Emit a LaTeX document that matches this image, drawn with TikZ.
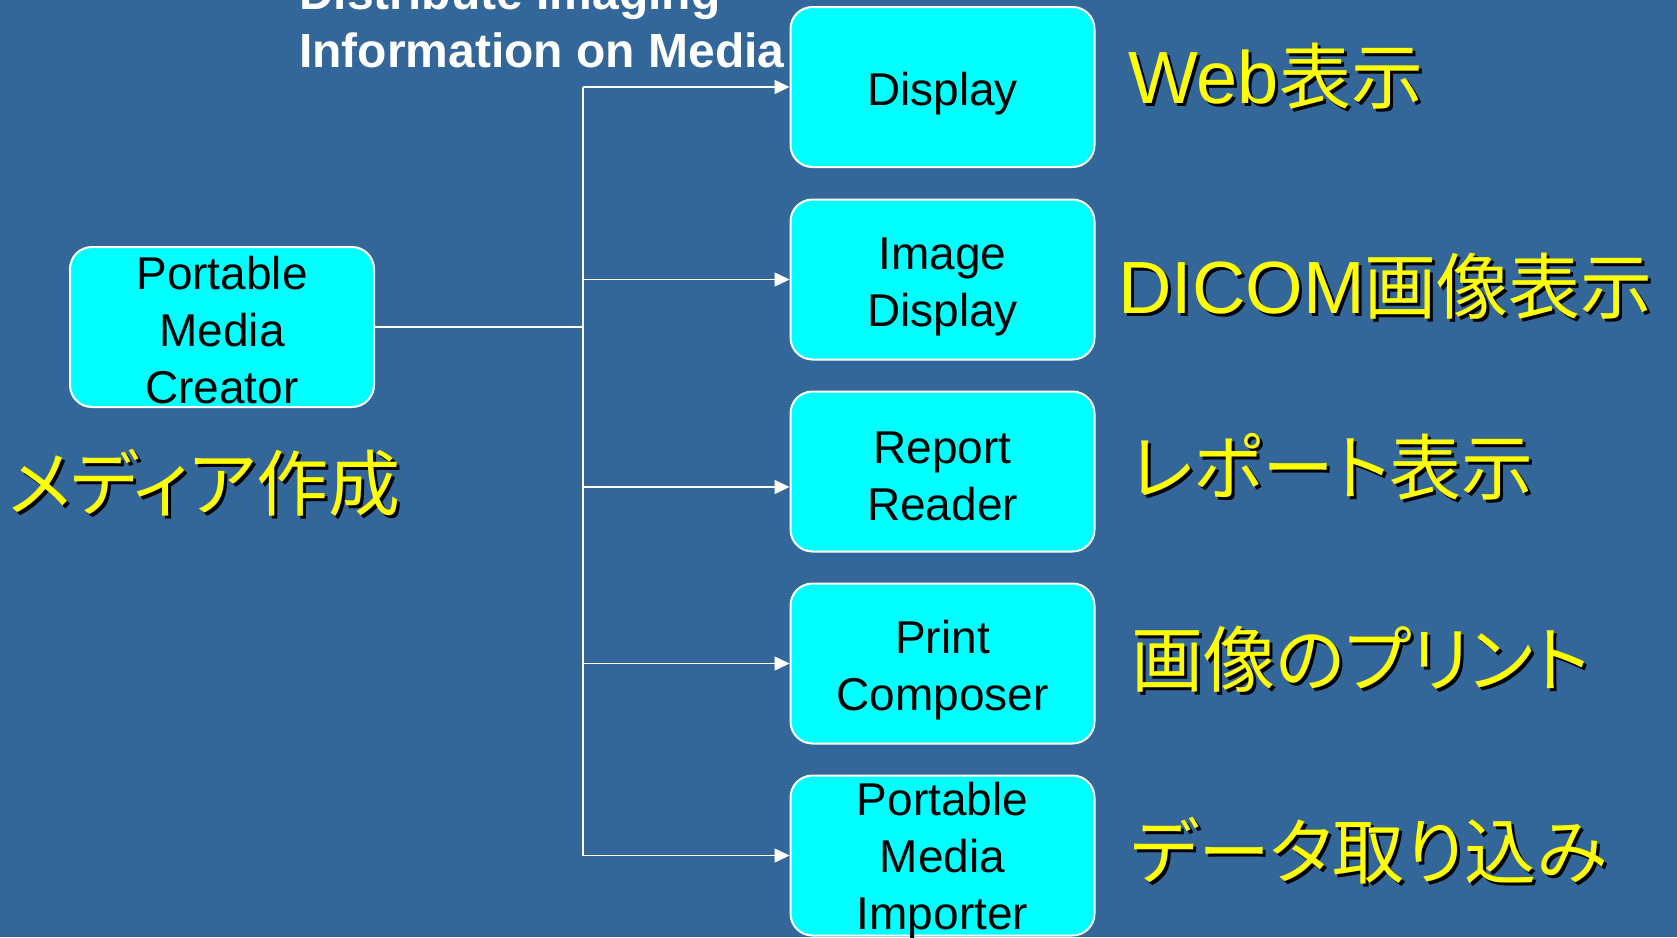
\documentclass[tikz,border=0pt]{standalone}
\usepackage{fontspec}
\setmainfont{Liberation Sans}
\newfontfamily\jpfam[RawFeature=+palt]{Noto Sans CJK JP}
\newcommand\jp{\jpfam\fontsize{72}{80}\selectfont}
\newcommand\tp[1]{\rule{0pt}{#1pt}}
\usetikzlibrary{arrows.meta}
\definecolor{bgblue}{RGB}{51,102,153}
\definecolor{boxcyan}{RGB}{0,255,255}
\definecolor{labyellow}{RGB}{255,255,0}
\newcommand\shd[1]{\makebox[0pt][l]{\hspace{3pt}\raisebox{-3pt}{\color{black}#1}}#1}
\begin{document}
\begin{tikzpicture}[x=1pt,y=-1pt,
  box/.style={draw=white, line width=2pt, fill=boxcyan, rounded corners=22pt,
    minimum width=304pt, minimum height=160pt, align=center, text=black,
    font=\fontsize{46}{57}\selectfont, inner sep=0pt},
  wire/.style={draw=white, line width=1.5pt},
  arr/.style={wire, -{Triangle[length=15pt,width=14pt]}},
  ttl/.style={anchor=base west, inner sep=0pt, text=white,
    font=\fontsize{48}{57}\selectfont\bfseries},
  lab/.style={anchor=base west, inner sep=0pt, text=labyellow,
    font=\fontsize{74}{80}\selectfont}]
\useasboundingbox (0,0) rectangle (1677,937);
\clip (0,0) rectangle (1677,937);
\fill[bgblue] (0,0) rectangle (1677,937);

% boxes
\node[box] (pmc) at (222,327) {\tp{40}Portable\\Media\\Creator};
\node[box] (r1) at (942.5,87) {\tp{46}Display};
\node[box] (r2) at (942.5,279.5) {\tp{46}Image\\Display};
\node[box] (r3) at (942.5,471.5) {\tp{41}Report\\Reader};
\node[box] (r4) at (942.5,663.5) {\tp{46}Print\\Composer};
\node[box, text depth=0pt] (r5) at (942.5,855.5) {Portable\\Media\\Importer};

% title
\node[ttl] (t1) at (299,9) {Distribute Imaging};
\node[ttl] (t2) at (299,67) {Information on Media};

% connectors
\coordinate (bus) at (583,327);
\coordinate (a1) at (583,87);
\coordinate (a2) at (583,279.5);
\coordinate (a3) at (583,487);
\coordinate (a4) at (583,663.5);
\coordinate (a5) at (583,855.5);
\draw[wire] (pmc.east) -- (bus);
\draw[wire] (a1) -- (a5);
\draw[arr] (a1) -- (r1.west);
\draw[arr] (a2) -- (r2.west);
\draw[arr] (a3) -- (a3 -| r3.west);
\draw[arr] (a4) -- (r4.west);
\draw[arr] (a5) -- (r5.west);

% labels
\node[lab] (l1) at (1128,103) {\shd{Web{\jp 表示}}};
\node[lab] (l2) at (1118,313) {\shd{DICOM{\jp 画像表示}}};
\node[lab] (l3) at (1130,494) {\shd{{\jp レポート表示}}};
\node[lab] (l4) at (1131,686) {\shd{{\jp 画像のプリント}}};
\node[lab] (l5) at (1131,878) {\shd{{\jp データ取り込み}}};
\node[lab] (l6) at (8,510) {\shd{{\jp メディア作成}}};
\end{tikzpicture}
\end{document}
